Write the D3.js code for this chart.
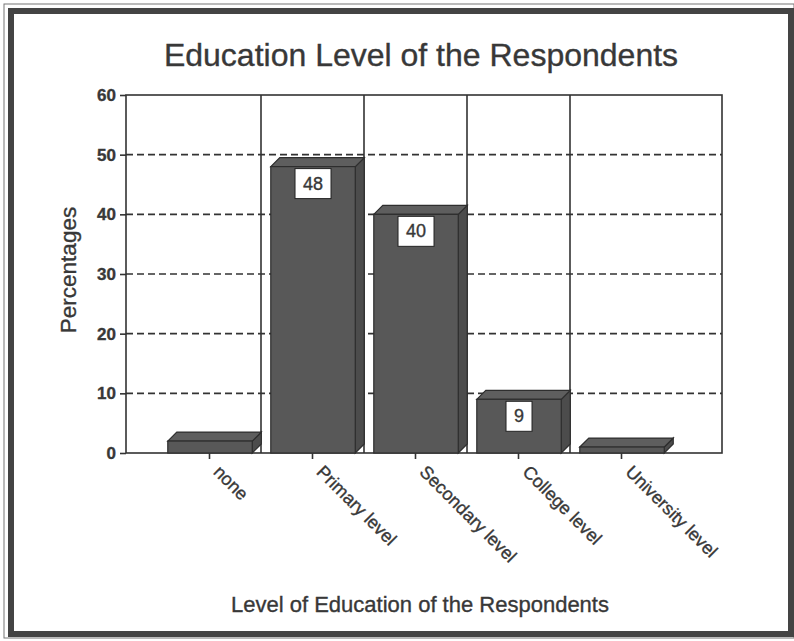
<!DOCTYPE html>
<html>
<head>
<meta charset="utf-8">
<script src="https://cdn.jsdelivr.net/npm/d3@7"></script>
<style>
  body { margin: 0; background: #fff; }
  text { font-family: "Liberation Sans", Arial, sans-serif; fill: #383838; stroke: #383838; stroke-width: 0.35px; }
</style>
</head>
<body>
<div id="vis"></div>
<script>
// chart data
var categories = ["none", "Primary level", "Secondary level", "College level", "University level"];
var values = [2, 48, 40, 9, 1];
var valueLabels = ["", "48", "40", "9", ""];
var yTicks = [0, 10, 20, 30, 40, 50, 60];

var width = 794, height = 641;
var plot = {left: 126, right: 722, top: 95, bottom: 453};
var depth = 9; // 3d offset of the bars

var svg = d3.select("#vis").append("svg")
    .attr("width", width)
    .attr("height", height);

// outer frame of the scanned picture
svg.append("rect").attr("x", 4).attr("y", 4).attr("width", 790).attr("height", 634)
    .attr("fill", "none").attr("stroke", "#777").attr("stroke-width", 1);
svg.append("rect").attr("x", 11).attr("y", 11).attr("width", 780).attr("height", 623)
    .attr("fill", "#fff").attr("stroke", "#444").attr("stroke-width", 6);

var y_scale = d3.scaleLinear().domain([0, 60]).range([plot.bottom, plot.top]);
var x_scale = d3.scaleBand().domain(categories).range([158, 673]).padding(0);
var step = x_scale.step();

// horizontal dashed gridlines
svg.append("g").selectAll("line")
    .data(yTicks.filter(function(d){ return d > 0 && d < 60; }))
    .enter().append("line")
    .attr("x1", plot.left).attr("x2", plot.right)
    .attr("y1", function(d){ return y_scale(d); })
    .attr("y2", function(d){ return y_scale(d); })
    .attr("stroke", "#333").attr("stroke-width", 1.6)
    .attr("stroke-dasharray", "7,4");

// vertical lines between categories
svg.append("g").selectAll("line")
    .data(categories.slice(1))
    .enter().append("line")
    .attr("x1", function(d){ return x_scale(d); })
    .attr("x2", function(d){ return x_scale(d); })
    .attr("y1", plot.top).attr("y2", plot.bottom)
    .attr("stroke", "#333").attr("stroke-width", 1.6);

// plot frame
svg.append("rect")
    .attr("x", plot.left).attr("y", plot.top)
    .attr("width", plot.right - plot.left).attr("height", plot.bottom - plot.top)
    .attr("fill", "none").attr("stroke", "#333").attr("stroke-width", 1.6);

// bars (front, side, top)
var data = categories.map(function(c, i){ return {cat: c, val: values[i], label: valueLabels[i]}; });
var bars = svg.append("g").selectAll("g").data(data).enter().append("g");

function fx(d){ return x_scale(d.cat) + step * 0.095; }
var bw = step * 0.82;

bars.append("path")
    .attr("d", function(d){
        var x0 = fx(d) + bw, y0 = y_scale(d.val), y1 = plot.bottom;
        return "M" + x0 + "," + y0 + "L" + (x0 + depth) + "," + (y0 - depth) +
               "L" + (x0 + depth) + "," + (y1 - depth) + "L" + x0 + "," + y1 + "Z";
    })
    .attr("fill", "#4c4c4c").attr("stroke", "#2e2e2e").attr("stroke-width", 1.2);

bars.append("path")
    .attr("d", function(d){
        var x0 = fx(d), y0 = y_scale(d.val);
        return "M" + x0 + "," + y0 + "L" + (x0 + depth) + "," + (y0 - depth) +
               "L" + (x0 + bw + depth) + "," + (y0 - depth) + "L" + (x0 + bw) + "," + y0 + "Z";
    })
    .attr("fill", "#5e5e5e").attr("stroke", "#2e2e2e").attr("stroke-width", 1.2);

bars.append("rect")
    .attr("x", fx)
    .attr("y", function(d){ return y_scale(d.val); })
    .attr("width", bw)
    .attr("height", function(d){ return plot.bottom - y_scale(d.val); })
    .attr("fill", "#585858").attr("stroke", "#2e2e2e").attr("stroke-width", 1.2);

// value label boxes
var lab = bars.filter(function(d){ return d.label !== ""; });
lab.append("rect")
    .attr("x", function(d){ var w = d.label.length > 1 ? 36 : 26; return fx(d) + bw / 2 - w / 2; })
    .attr("y", function(d){ return y_scale(d.val) + 2; })
    .attr("width", function(d){ return d.label.length > 1 ? 36 : 26; })
    .attr("height", 30)
    .attr("fill", "#fff").attr("stroke", "#222").attr("stroke-width", 1);
lab.append("text")
    .attr("x", function(d){ return fx(d) + bw / 2; })
    .attr("y", function(d){ return y_scale(d.val) + 23; })
    .attr("text-anchor", "middle")
    .style("font-size", "18px")
    .text(function(d){ return d.label; });

// y axis
var Y = d3.axisLeft(y_scale).tickValues(yTicks).tickSize(6).tickPadding(4);
var gy = svg.append("g").attr("transform", "translate(" + plot.left + ",0)").call(Y);
gy.select(".domain").remove();
gy.selectAll("line").attr("stroke", "#333").attr("stroke-width", 1.6);
gy.selectAll("text").style("font-size", "17px").style("font-weight", "bold").attr("fill", "#383838");

// x axis
var X = d3.axisBottom(x_scale).tickSize(6).tickSizeOuter(0);
var gx = svg.append("g").attr("transform", "translate(0," + plot.bottom + ")").call(X);
gx.select(".domain").remove();
gx.selectAll("line").attr("stroke", "#333").attr("stroke-width", 1.6);
gx.selectAll("text")
    .attr("y", 0).attr("dy", 0)
    .attr("transform", "translate(3,20) rotate(45)")
    .style("text-anchor", "start")
    .style("font-size", "18px")
    .attr("fill", "#383838");

// titles
svg.append("text").attr("x", 421).attr("y", 66).attr("text-anchor", "middle")
    .style("font-size", "32px").text("Education Level of the Respondents");
svg.append("text").attr("x", 420).attr("y", 612).attr("text-anchor", "middle")
    .style("font-size", "22px").text("Level of Education of the Respondents");
svg.append("text").attr("transform", "translate(76,270) rotate(-90)").attr("text-anchor", "middle")
    .style("font-size", "22.5px").text("Percentages");
</script>
</body>
</html>
